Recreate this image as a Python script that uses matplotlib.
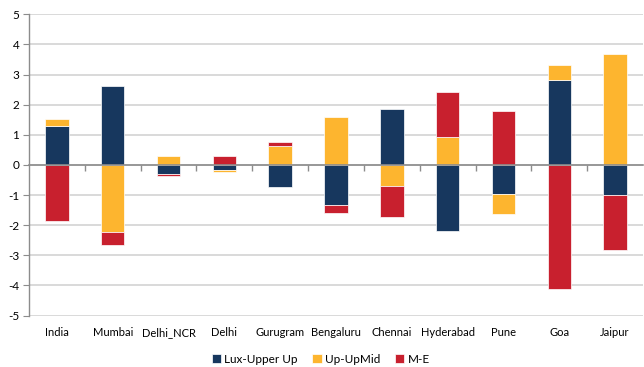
import numpy as np
import matplotlib
matplotlib.use('Agg')
import matplotlib.pyplot as plt

plt.rcParams['font.family'] = ['Lato', 'DejaVu Sans']
plt.rcParams['axes.unicode_minus'] = False

cities = ['India', 'Mumbai', 'Delhi_NCR', 'Delhi', 'Gurugram', 'Bengaluru',
          'Chennai', 'Hyderabad', 'Pune', 'Goa', 'Jaipur']
lux_upper = [1.28, 2.62, -0.31, -0.17, -0.73, -1.32, 1.85, -2.20, -0.97, 2.83, -1.00]
up_upmid = [0.26, -2.21, 0.29, -0.05, 0.63, 1.59, -0.70, 0.92, -0.66, 0.48, 3.68]
mid_eco = [-1.87, -0.45, -0.04, 0.30, 0.12, -0.26, -1.04, 1.51, 1.80, -4.10, -1.82]

series = [('Lux-Upper Up', lux_upper, '#17375E'),
          ('Up-UpMid', up_upmid, '#FDB52F'),
          ('M-E', mid_eco, '#C8202E')]

fig = plt.figure(figsize=(6.44, 3.67), dpi=100)
ax = fig.add_axes([0.045, 0.140, 0.9535, 0.821])

x = np.arange(len(cities))
pos_base = np.zeros(len(cities))
neg_base = np.zeros(len(cities))
for name, vals, col in series:
    v = np.array(vals)
    base = np.where(v >= 0, pos_base, neg_base)
    ax.bar(x, v, 0.42, bottom=base, color=col, edgecolor='white',
           linewidth=0.5, label=name, zorder=3)
    pos_base += np.where(v >= 0, v, 0)
    neg_base += np.where(v < 0, v, 0)

ax.set_xlim(-0.5, len(cities) - 0.5)
ax.set_ylim(-5, 5)
ax.set_yticks(range(-5, 6))
ax.yaxis.grid(True, color='#D9D9D9', linewidth=1.4, zorder=0)
ax.set_axisbelow(True)

for s in ['top', 'right', 'bottom']:
    ax.spines[s].set_visible(False)
ax.spines['left'].set_color('#8C8C8C')
ax.spines['left'].set_linewidth(1.0)
ax.tick_params(axis='y', length=4, color='#8C8C8C', labelsize=8.5, pad=3)

ax.set_xticks(x)
ax.set_xticklabels(cities)
ax.tick_params(axis='x', length=0, labelsize=8, pad=8)

# zero line with category boundary ticks pointing down
zax = ax.twiny()
zax.set_xlim(ax.get_xlim())
for s in ['top', 'left', 'right']:
    zax.spines[s].set_visible(False)
zax.spines['bottom'].set_position(('axes', 0.5))
zax.spines['bottom'].set_color('#8C8C8C')
zax.spines['bottom'].set_linewidth(1.2)
zax.xaxis.set_ticks_position('bottom')
zax.set_xticks(np.arange(0.5, len(cities) - 0.5, 1.0))
zax.set_xticklabels([])
zax.tick_params(axis='x', length=4, color='#8C8C8C', width=1.0, direction='out')

ax.legend(loc='center', bbox_to_anchor=(0.475, -0.145), ncol=3, frameon=False,
          fontsize=8.5, handlelength=0.8, handleheight=0.8, handletextpad=0.3,
          columnspacing=1.2)

fig.savefig('out.png', dpi=100)
